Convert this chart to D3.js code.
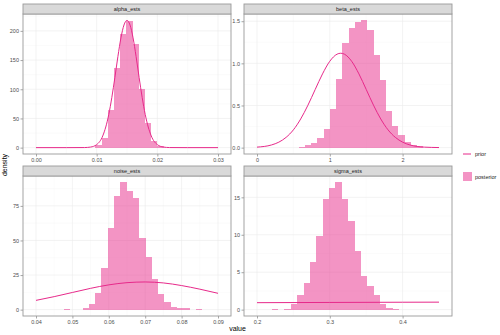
<!DOCTYPE html>
<meta charset="utf-8">
<head lang="en">
    <title></title>
    <script src="https://cdn.jsdelivr.net/npm/d3@7"></script>
    <style type="text/css">
        body { margin: 0; background: #fff; }
        text { font-family: "Liberation Sans", Arial, sans-serif; }
        .grid-major { stroke: #ebebeb; stroke-width: 0.6; }
        .grid-minor { stroke: #f4f4f4; stroke-width: 0.4; }
        .bar { fill: #e7298a; fill-opacity: 0.5; shape-rendering: crispEdges; }
        .prior { fill: none; stroke: #e7298a; stroke-width: 1; }
        .axis text { fill: #4d4d4d; font-size: 5.5px; }
        .axis line { stroke: #4d4d4d; stroke-width: 0.5; }
        .axis path { display: none; }
    </style>
</head>
<body>
<script type="text/javascript">

    // ---- data ----
    var panelNames = ["alpha_ests", "beta_ests", "noise_ests", "sigma_ests"];

    // posterior histograms: first bin edge, bin width, density per bin
    var alphaBinStart = 0.0098, alphaBinWidth = 0.00102;
    var alphaDens = [4, 16, 65, 136, 194, 217, 177, 101, 43, 11, 2];
    var betaBinStart = 0.572, betaBinWidth = 0.0857;
    var betaDens = [0.01, 0.035, 0.06, 0.12, 0.22, 0.46, 0.81, 1.24, 1.42, 1.49, 1.51, 1.40, 1.10, 0.80, 0.44, 0.255, 0.15, 0.07, 0.035, 0.015];
    var noiseBinStart = 0.0476, noiseBinWidth = 0.00173;
    var noiseDens = [0.3, 0, 0, 1, 4.3, 12, 30, 59, 82, 92, 86, 81, 52, 38, 22, 11, 5.5, 2, 1, 1, 0, 0.2];
    var sigmaBinStart = 0.2202, sigmaBinWidth = 0.00876;
    var sigmaDens = [0.05, 0, 0.1, 0.75, 1.9, 3.6, 6.4, 9.9, 14.8, 16.2, 17.0, 14.8, 11.9, 7.8, 4.5, 3.1, 2.0, 0.75, 0.2, 0.05];

    // prior density curves
    var alphaPriorX = [0, 0.005, 0.008, 0.009, 0.010, 0.011, 0.012, 0.0125, 0.013, 0.0135, 0.014, 0.0145, 0.015, 0.0155, 0.016, 0.0165, 0.017, 0.0175, 0.018, 0.019, 0.020, 0.021, 0.022, 0.025, 0.030];
    var alphaPriorY = [0, 0, 0.15, 1.0, 5.2, 20, 57, 86, 120, 156, 188, 210, 218, 210, 188, 156, 120, 86, 57, 20, 5.2, 1.0, 0.15, 0, 0];
    var betaPriorX = [0, 0.2, 0.3, 0.4, 0.5, 0.6, 0.7, 0.8, 0.9, 1.0, 1.1, 1.15, 1.2, 1.3, 1.4, 1.5, 1.6, 1.7, 1.8, 1.9, 2.0, 2.1, 2.3, 2.5];
    var betaPriorY = [0.006, 0.032, 0.065, 0.122, 0.211, 0.34, 0.504, 0.691, 0.875, 1.025, 1.109, 1.12, 1.109, 1.025, 0.875, 0.691, 0.504, 0.34, 0.211, 0.122, 0.065, 0.032, 0.006, 0.001];
    var noisePriorX = [0.04, 0.045, 0.05, 0.055, 0.06, 0.065, 0.07, 0.075, 0.08, 0.085, 0.09];
    var noisePriorY = [6.7, 9.4, 12.4, 15.4, 17.9, 19.5, 20, 19.3, 17.4, 14.8, 11.8];
    var sigmaPriorX = [0.2, 0.3, 0.4, 0.45];
    var sigmaPriorY = [0.93, 0.96, 0.99, 1.0];

    // axis ticks
    var alphaXTicks = [0, 0.01, 0.02, 0.03], alphaYTicks = [0, 50, 100, 150, 200];
    var betaXTicks = [0, 1, 2], betaYTicks = [0, 0.5, 1.0, 1.5];
    var noiseXTicks = [0.04, 0.05, 0.06, 0.07, 0.08, 0.09], noiseYTicks = [0, 25, 50, 75];
    var sigmaXTicks = [0.2, 0.3, 0.4], sigmaYTicks = [0, 5, 10, 15];

    var width = 500, height = 335;
    var cols = [[23, 231], [244, 452]];
    var rows = [{strip: 4, top: 14, bottom: 154}, {strip: 166, top: 176, bottom: 316}];
    var xPad = 13;

    var panels = [
        {name: panelNames[0], col: 0, row: 0, xDom: [0, 0.03], start: alphaBinStart, bw: alphaBinWidth, dens: alphaDens,
            px: alphaPriorX, py: alphaPriorY, xt: alphaXTicks, yt: alphaYTicks, xf: ".2f", yf: "d"},
        {name: panelNames[1], col: 1, row: 0, xDom: [0, 2.5], start: betaBinStart, bw: betaBinWidth, dens: betaDens,
            px: betaPriorX, py: betaPriorY, xt: betaXTicks, yt: betaYTicks, xf: "d", yf: ".1f"},
        {name: panelNames[2], col: 0, row: 1, xDom: [0.04, 0.09], start: noiseBinStart, bw: noiseBinWidth, dens: noiseDens,
            px: noisePriorX, py: noisePriorY, xt: noiseXTicks, yt: noiseYTicks, xf: ".2f", yf: "d"},
        {name: panelNames[3], col: 1, row: 1, xDom: [0.2, 0.45], start: sigmaBinStart, bw: sigmaBinWidth, dens: sigmaDens,
            px: sigmaPriorX, py: sigmaPriorY, xt: sigmaXTicks, yt: sigmaYTicks, xf: ".1f", yf: "d"}
    ];

    var svg = d3.select("body")
        .append("svg")
        .attr("width", width)
        .attr("height", height);

    panels.forEach(function (p) {
        var x0 = cols[p.col][0], x1 = cols[p.col][1];
        var r = rows[p.row];
        var ymax = Math.max(d3.max(p.dens), d3.max(p.py));
        var xScale = d3.scaleLinear().domain(p.xDom).range([x0 + xPad, x1 - xPad]);
        var yScale = d3.scaleLinear().domain([-0.05 * ymax, 1.05 * ymax]).range([r.bottom, r.top]);

        var g = svg.append("g");
        g.append("rect")
            .attr("x", x0).attr("y", r.top)
            .attr("width", x1 - x0).attr("height", r.bottom - r.top)
            .attr("fill", "#fff");

        // minor grid (midpoints between major ticks)
        var xMinor = [], yMinor = [];
        for (var i = 0; i < p.xt.length - 1; i++) xMinor.push((p.xt[i] + p.xt[i + 1]) / 2);
        for (var j = 0; j < p.yt.length - 1; j++) yMinor.push((p.yt[j] + p.yt[j + 1]) / 2);
        yMinor.push(p.yt[p.yt.length - 1] + (p.yt[1] - p.yt[0]) / 2);
        xMinor = xMinor.filter(function (v) { return xScale(v) < x1 && xScale(v) > x0; });
        yMinor = yMinor.filter(function (v) { return yScale(v) > r.top; });

        g.selectAll(".xminor").data(xMinor).enter().append("line")
            .attr("class", "grid-minor")
            .attr("x1", function (d) { return xScale(d); }).attr("x2", function (d) { return xScale(d); })
            .attr("y1", r.top).attr("y2", r.bottom);
        g.selectAll(".yminor").data(yMinor).enter().append("line")
            .attr("class", "grid-minor")
            .attr("y1", function (d) { return yScale(d); }).attr("y2", function (d) { return yScale(d); })
            .attr("x1", x0).attr("x2", x1);
        g.selectAll(".xmajor").data(p.xt).enter().append("line")
            .attr("class", "grid-major")
            .attr("x1", function (d) { return xScale(d); }).attr("x2", function (d) { return xScale(d); })
            .attr("y1", r.top).attr("y2", r.bottom);
        g.selectAll(".ymajor").data(p.yt).enter().append("line")
            .attr("class", "grid-major")
            .attr("y1", function (d) { return yScale(d); }).attr("y2", function (d) { return yScale(d); })
            .attr("x1", x0).attr("x2", x1);

        // posterior histogram
        g.selectAll(".bar").data(p.dens).enter().append("rect")
            .attr("class", "bar")
            .attr("x", function (d, i) { return xScale(p.start + i * p.bw); })
            .attr("width", function (d, i) { return xScale(p.start + (i + 1) * p.bw) - xScale(p.start + i * p.bw); })
            .attr("y", function (d) { return yScale(d); })
            .attr("height", function (d) { return yScale(0) - yScale(d); });

        // prior curve
        var line = d3.line()
            .x(function (d) { return xScale(d[0]); })
            .y(function (d) { return yScale(d[1]); })
            .curve(d3.curveMonotoneX);
        g.append("path")
            .datum(d3.zip(p.px, p.py))
            .attr("class", "prior")
            .attr("d", line);

        // axes
        g.append("g")
            .attr("class", "axis")
            .attr("transform", "translate(0," + r.bottom + ")")
            .call(d3.axisBottom(xScale).tickValues(p.xt).tickFormat(d3.format(p.xf)).tickSize(2.5).tickPadding(1.5));
        g.append("g")
            .attr("class", "axis")
            .attr("transform", "translate(" + x0 + ",0)")
            .call(d3.axisLeft(yScale).tickValues(p.yt).tickFormat(d3.format(p.yf)).tickSize(2.5).tickPadding(1.5));

        // panel border
        g.append("rect")
            .attr("x", x0).attr("y", r.top)
            .attr("width", x1 - x0).attr("height", r.bottom - r.top)
            .attr("fill", "none").attr("stroke", "#9a9a9a").attr("stroke-width", 0.9);

        // strip
        g.append("rect")
            .attr("x", x0).attr("y", r.strip)
            .attr("width", x1 - x0).attr("height", r.top - r.strip)
            .attr("fill", "#d9d9d9").attr("stroke", "#9a9a9a").attr("stroke-width", 0.9);
        g.append("text")
            .attr("x", (x0 + x1) / 2).attr("y", (r.strip + r.top) / 2 + 2)
            .attr("text-anchor", "middle")
            .attr("font-size", "5.5px")
            .attr("fill", "#1a1a1a")
            .text(p.name);
    });

    // axis titles
    svg.append("text")
        .attr("x", (cols[0][0] + cols[1][1]) / 2)
        .attr("y", 331)
        .attr("text-anchor", "middle")
        .attr("font-size", "7px")
        .text("value");
    svg.append("text")
        .attr("transform", "translate(7," + ((rows[0].top + rows[1].bottom) / 2) + ") rotate(-90)")
        .attr("text-anchor", "middle")
        .attr("font-size", "7px")
        .text("density");

    // legend
    var legend = svg.append("g");
    legend.append("line")
        .attr("x1", 463).attr("x2", 471).attr("y1", 154).attr("y2", 154)
        .attr("class", "prior");
    legend.append("text")
        .attr("x", 475).attr("y", 156)
        .attr("font-size", "5.5px").attr("fill", "#1a1a1a")
        .text("prior");
    legend.append("rect")
        .attr("x", 463).attr("y", 172).attr("width", 9).attr("height", 9)
        .attr("class", "bar");
    legend.append("text")
        .attr("x", 475).attr("y", 178.5)
        .attr("font-size", "5.5px").attr("fill", "#1a1a1a")
        .text("posterior");

</script>
</body>
